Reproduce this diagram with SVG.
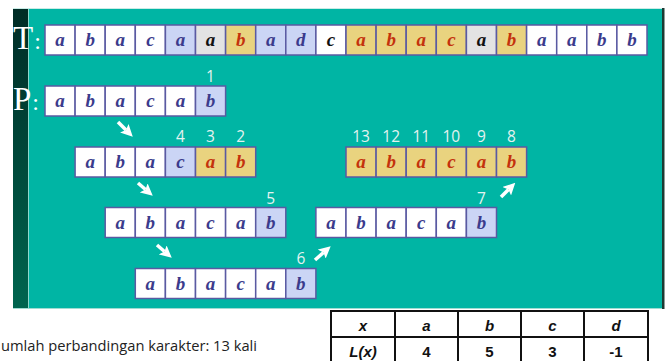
<svg xmlns="http://www.w3.org/2000/svg" width="667" height="361" viewBox="0 0 667 361">
<style>
.c{stroke:#5a5aa2;stroke-width:1.5}
.w{fill:#ffffff}.lb{fill:#cbd5f5}.y{fill:#e9d37f}.g{fill:#e3e3e3}
.t{font-family:"Liberation Serif",serif;font-style:italic;font-weight:bold;font-size:19px;text-anchor:middle}
.bl{fill:#3b3b8c}.rd{fill:#c4320c}.bk{fill:#111111}
.n{font-family:"Open Sans",sans-serif;font-size:15.5px;fill:#e4f3f0;text-anchor:middle}
.lab{font-family:"Liberation Serif",serif;font-size:33px;fill:#ffffff}
.tb{font-family:"Liberation Sans",sans-serif;font-size:15px;font-weight:bold;text-anchor:middle;fill:#111}
.ar{stroke:#ffffff;stroke-width:3.5;fill:none}
</style>
<defs>
<linearGradient id="strip" x1="0" y1="0" x2="0" y2="1">
<stop offset="0" stop-color="#002b25"/>
<stop offset="1" stop-color="#00654f"/>
</linearGradient>
<marker id="ah" viewBox="0 0 10 10" refX="2" refY="5" markerWidth="12" markerHeight="12" markerUnits="userSpaceOnUse" orient="auto">
<path d="M0,0 L10,5 L0,10 L2,5 z" fill="#ffffff"/>
</marker>
</defs>
<rect width="667" height="361" fill="#ffffff"/>
<g id="panel">
<rect x="13" y="8" width="649" height="300" fill="#00b5a4"/>
<rect x="13" y="8" width="15" height="300" fill="url(#strip)"/>
<line x1="28.5" y1="8" x2="28.5" y2="308" stroke="#8fd8cc" stroke-width="1"/>
<line x1="13" y1="308.5" x2="662" y2="308.5" stroke="#9fdcd2" stroke-width="1"/>
<line x1="13" y1="8.5" x2="662" y2="8.5" stroke="#c9ece6" stroke-width="1"/>
<rect x="662" y="8" width="2.5" height="301" fill="#1d3a32"/>
</g>
<g id="labels">
<text class="lab" x="13" y="49">T<tspan font-size="24" dx="1">:</tspan></text>
<text class="lab" x="13" y="110">P<tspan font-size="24" dx="1">:</tspan></text>
</g>
<g id="T">
<rect class="c w" x="45" y="25" width="30.1" height="30"/><text class="t bl" x="60.05" y="46">a</text>
<rect class="c w" x="75.1" y="25" width="30.1" height="30"/><text class="t bl" x="90.15" y="46">b</text>
<rect class="c w" x="105.2" y="25" width="30.1" height="30"/><text class="t bl" x="120.25" y="46">a</text>
<rect class="c w" x="135.3" y="25" width="30.1" height="30"/><text class="t bl" x="150.35" y="46">c</text>
<rect class="c lb" x="165.4" y="25" width="30.1" height="30"/><text class="t bl" x="180.45" y="46">a</text>
<rect class="c g" x="195.5" y="25" width="30.1" height="30"/><text class="t bk" x="210.55" y="46">a</text>
<rect class="c y" x="225.6" y="25" width="30.1" height="30"/><text class="t rd" x="240.65" y="46">b</text>
<rect class="c lb" x="255.7" y="25" width="30.1" height="30"/><text class="t bl" x="270.75" y="46">a</text>
<rect class="c lb" x="285.8" y="25" width="30.1" height="30"/><text class="t bl" x="300.85" y="46">d</text>
<rect class="c w" x="315.9" y="25" width="30.1" height="30"/><text class="t bk" x="330.95" y="46">c</text>
<rect class="c y" x="346" y="25" width="30.1" height="30"/><text class="t rd" x="361.05" y="46">a</text>
<rect class="c y" x="376.1" y="25" width="30.1" height="30"/><text class="t rd" x="391.15" y="46">b</text>
<rect class="c y" x="406.2" y="25" width="30.1" height="30"/><text class="t rd" x="421.25" y="46">a</text>
<rect class="c y" x="436.3" y="25" width="30.1" height="30"/><text class="t rd" x="451.35" y="46">c</text>
<rect class="c g" x="466.4" y="25" width="30.1" height="30"/><text class="t bk" x="481.45" y="46">a</text>
<rect class="c y" x="496.5" y="25" width="30.1" height="30"/><text class="t rd" x="511.55" y="46">b</text>
<rect class="c w" x="526.6" y="25" width="30.1" height="30"/><text class="t bl" x="541.65" y="46">a</text>
<rect class="c w" x="556.7" y="25" width="30.1" height="30"/><text class="t bl" x="571.75" y="46">a</text>
<rect class="c w" x="586.8" y="25" width="30.1" height="30"/><text class="t bl" x="601.85" y="46">b</text>
<rect class="c w" x="616.9" y="25" width="30.1" height="30"/><text class="t bl" x="631.95" y="46">b</text>
</g>
<g id="P1">
<rect class="c w" x="45" y="86" width="30.1" height="30"/><text class="t bl" x="60.05" y="107">a</text>
<rect class="c w" x="75.1" y="86" width="30.1" height="30"/><text class="t bl" x="90.15" y="107">b</text>
<rect class="c w" x="105.2" y="86" width="30.1" height="30"/><text class="t bl" x="120.25" y="107">a</text>
<rect class="c w" x="135.3" y="86" width="30.1" height="30"/><text class="t bl" x="150.35" y="107">c</text>
<rect class="c w" x="165.4" y="86" width="30.1" height="30"/><text class="t bl" x="180.45" y="107">a</text>
<rect class="c lb" x="195.5" y="86" width="30.1" height="30"/><text class="t bl" x="210.55" y="107">b</text>
<text class="n" x="210.55" y="82">1</text>
</g>
<g id="P2">
<rect class="c w" x="75.1" y="147" width="30.1" height="30"/><text class="t bl" x="90.15" y="168">a</text>
<rect class="c w" x="105.2" y="147" width="30.1" height="30"/><text class="t bl" x="120.25" y="168">b</text>
<rect class="c w" x="135.3" y="147" width="30.1" height="30"/><text class="t bl" x="150.35" y="168">a</text>
<rect class="c lb" x="165.4" y="147" width="30.1" height="30"/><text class="t bl" x="180.45" y="168">c</text>
<rect class="c y" x="195.5" y="147" width="30.1" height="30"/><text class="t rd" x="210.55" y="168">a</text>
<rect class="c y" x="225.6" y="147" width="30.1" height="30"/><text class="t rd" x="240.65" y="168">b</text>
<text class="n" x="180.45" y="142">4</text>
<text class="n" x="210.55" y="142">3</text>
<text class="n" x="240.65" y="142">2</text>
</g>
<g id="P3">
<rect class="c w" x="105.2" y="207.5" width="30.1" height="30"/><text class="t bl" x="120.25" y="228.5">a</text>
<rect class="c w" x="135.3" y="207.5" width="30.1" height="30"/><text class="t bl" x="150.35" y="228.5">b</text>
<rect class="c w" x="165.4" y="207.5" width="30.1" height="30"/><text class="t bl" x="180.45" y="228.5">a</text>
<rect class="c w" x="195.5" y="207.5" width="30.1" height="30"/><text class="t bl" x="210.55" y="228.5">c</text>
<rect class="c w" x="225.6" y="207.5" width="30.1" height="30"/><text class="t bl" x="240.65" y="228.5">a</text>
<rect class="c lb" x="255.7" y="207.5" width="30.1" height="30"/><text class="t bl" x="270.75" y="228.5">b</text>
<text class="n" x="270.75" y="203.5">5</text>
</g>
<g id="P4">
<rect class="c w" x="135.3" y="268.5" width="30.1" height="30"/><text class="t bl" x="150.35" y="289.5">a</text>
<rect class="c w" x="165.4" y="268.5" width="30.1" height="30"/><text class="t bl" x="180.45" y="289.5">b</text>
<rect class="c w" x="195.5" y="268.5" width="30.1" height="30"/><text class="t bl" x="210.55" y="289.5">a</text>
<rect class="c w" x="225.6" y="268.5" width="30.1" height="30"/><text class="t bl" x="240.65" y="289.5">c</text>
<rect class="c w" x="255.7" y="268.5" width="30.1" height="30"/><text class="t bl" x="270.75" y="289.5">a</text>
<rect class="c lb" x="285.8" y="268.5" width="30.1" height="30"/><text class="t bl" x="300.85" y="289.5">b</text>
<text class="n" x="300.85" y="264">6</text>
</g>
<g id="P5">
<rect class="c w" x="315.9" y="207.5" width="30.1" height="30"/><text class="t bl" x="330.95" y="228.5">a</text>
<rect class="c w" x="346" y="207.5" width="30.1" height="30"/><text class="t bl" x="361.05" y="228.5">b</text>
<rect class="c w" x="376.1" y="207.5" width="30.1" height="30"/><text class="t bl" x="391.15" y="228.5">a</text>
<rect class="c w" x="406.2" y="207.5" width="30.1" height="30"/><text class="t bl" x="421.25" y="228.5">c</text>
<rect class="c w" x="436.3" y="207.5" width="30.1" height="30"/><text class="t bl" x="451.35" y="228.5">a</text>
<rect class="c lb" x="466.4" y="207.5" width="30.1" height="30"/><text class="t bl" x="481.45" y="228.5">b</text>
<text class="n" x="481.45" y="203.5">7</text>
</g>
<g id="P6">
<rect class="c y" x="346" y="147" width="30.1" height="30"/><text class="t rd" x="361.05" y="168">a</text>
<rect class="c y" x="376.1" y="147" width="30.1" height="30"/><text class="t rd" x="391.15" y="168">b</text>
<rect class="c y" x="406.2" y="147" width="30.1" height="30"/><text class="t rd" x="421.25" y="168">a</text>
<rect class="c y" x="436.3" y="147" width="30.1" height="30"/><text class="t rd" x="451.35" y="168">c</text>
<rect class="c y" x="466.4" y="147" width="30.1" height="30"/><text class="t rd" x="481.45" y="168">a</text>
<rect class="c y" x="496.5" y="147" width="30.1" height="30"/><text class="t rd" x="511.55" y="168">b</text>
<text class="n" x="361.05" y="142">13</text>
<text class="n" x="391.15" y="142">12</text>
<text class="n" x="421.25" y="142">11</text>
<text class="n" x="451.35" y="142">10</text>
<text class="n" x="481.45" y="142">9</text>
<text class="n" x="511.55" y="142">8</text>
</g>
<g id="connectors">
<line class="ar" x1="118" y1="122" x2="126" y2="130" marker-end="url(#ah)"/>
<line class="ar" x1="138" y1="183" x2="145.5" y2="189.5" marker-end="url(#ah)"/>
<line class="ar" x1="157" y1="245" x2="164.5" y2="251.5" marker-end="url(#ah)"/>
<line class="ar" x1="315" y1="260" x2="323.5" y2="252.5" marker-end="url(#ah)"/>
<line class="ar" x1="501" y1="197" x2="508.5" y2="189.5" marker-end="url(#ah)"/>
</g>
<g id="caption">
<text x="1" y="351" font-family="'Open Sans',sans-serif" font-size="14" textLength="256" lengthAdjust="spacingAndGlyphs" fill="#222">umlah perbandingan karakter: 13 kali</text>
</g>
<g id="table">
<rect x="331" y="311" width="317" height="55" fill="#ffffff" stroke="#111" stroke-width="2"/>
<line x1="331" y1="337" x2="648" y2="337" stroke="#111" stroke-width="2"/>
<line x1="395" y1="311" x2="395" y2="366" stroke="#111" stroke-width="2"/>
<line x1="458" y1="311" x2="458" y2="366" stroke="#111" stroke-width="2"/>
<line x1="521" y1="311" x2="521" y2="366" stroke="#111" stroke-width="2"/>
<line x1="584" y1="311" x2="584" y2="366" stroke="#111" stroke-width="2"/>
<text class="tb" x="363" y="331" font-style="italic">x</text>
<text class="tb" x="426.5" y="331" font-style="italic">a</text>
<text class="tb" x="489.5" y="331" font-style="italic">b</text>
<text class="tb" x="552.5" y="331" font-style="italic">c</text>
<text class="tb" x="616" y="331" font-style="italic">d</text>
<text class="tb" x="363" y="357" font-style="italic">L(x)</text>
<text class="tb" x="426.5" y="357">4</text>
<text class="tb" x="489.5" y="357">5</text>
<text class="tb" x="552.5" y="357">3</text>
<text class="tb" x="616" y="357">-1</text>
</g>
</svg>
